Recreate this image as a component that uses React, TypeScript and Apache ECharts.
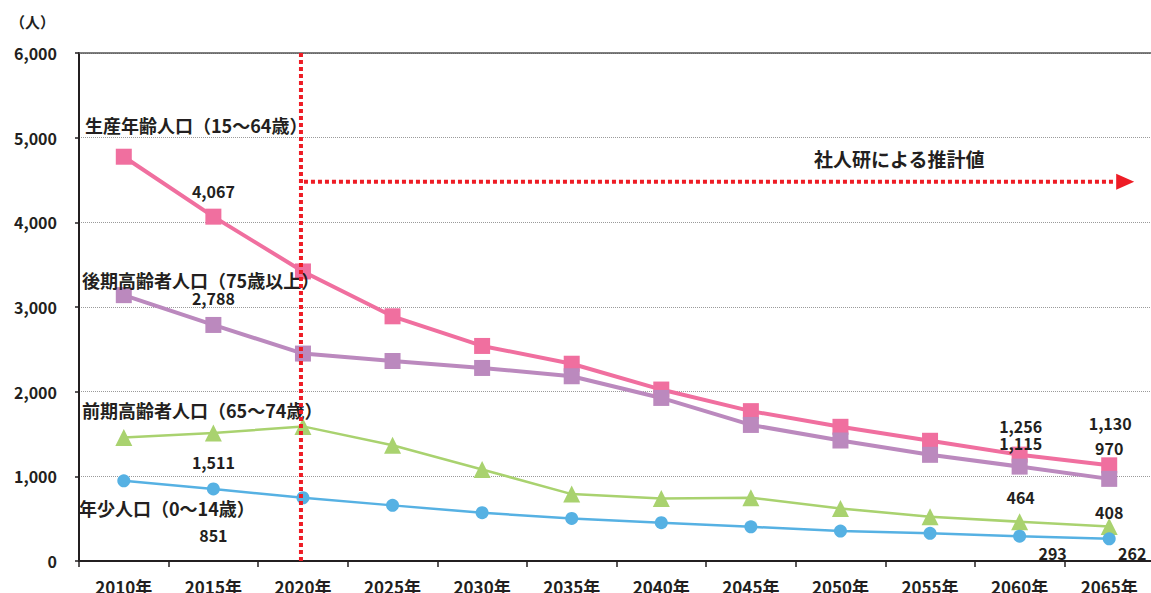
import React, { useEffect, useRef } from "react";
import * as echarts from "echarts";

const years = ["2010年", "2015年", "2020年", "2025年", "2030年", "2035年", "2040年", "2045年", "2050年", "2055年", "2060年", "2065年"];
const working = [4775, 4067, 3420, 2890, 2540, 2330, 2025, 1770, 1585, 1420, 1256, 1130];
const lateElderly = [3140, 2788, 2450, 2362, 2280, 2182, 1926, 1607, 1423, 1254, 1115, 970];
const earlyElderly = [1459, 1511, 1590, 1368, 1081, 790, 739, 747, 621, 522, 464, 408];
const youth = [947, 851, 747, 657, 570, 503, 452, 404, 354, 327, 293, 262];
const yTicks = [0, 1000, 2000, 3000, 4000, 5000, 6000];

const FONT = '"Noto Sans CJK JP", "Noto Sans", sans-serif';
const INK = "#231f20";
const RED = "#ee1c25";

// label offsets (dx, dy from the point centre) for the points that show their value
const labelOffsets: Record<string, Record<number, [number, number]>> = {
  working: { 1: [0, -26], 10: [1, -29], 11: [1, -42] },
  late: { 1: [0, -27], 10: [1, -24], 11: [0, -31] },
  early: { 1: [0, 29], 10: [1, -25], 11: [0, -14] },
  youth: { 1: [0, 46], 10: [33, 17], 11: [23, 14] },
};

function withLabels(values: number[], key: string) {
  const offs = labelOffsets[key];
  return values.map((v, i) =>
    offs[i]
      ? {
          value: v,
          label: {
            show: true,
            position: "inside",
            offset: offs[i],
            formatter: (p: any) => Number(p.value).toLocaleString("en-US"),
            color: INK,
            fontFamily: FONT,
            fontWeight: "bold",
            fontSize: 16,
          },
        }
      : v
  );
}

export default function App() {
  const ref = useRef<HTMLDivElement>(null);

  useEffect(() => {
    if (!ref.current) return;
    const chart = echarts.init(ref.current, null, { renderer: "svg" });

    const lineSeries = (name: string, key: string, values: number[], color: string, symbol: string, size: number, width: number) => ({
      name,
      type: "line",
      data: withLabels(values, key),
      symbol,
      symbolSize: size,
      showAllSymbol: true,
      itemStyle: { color },
      lineStyle: { color, width },
      label: { show: false },
      emphasis: { disabled: true },
    });

    chart.setOption({
      animation: false,
      grid: { left: 79, top: 53, width: 1075, height: 508, containLabel: false, outerBoundsMode: "none" },
      xAxis: [
        {
          type: "category",
          data: years,
          boundaryGap: true,
          axisLine: { show: true, lineStyle: { color: INK, width: 2 } },
          axisTick: { show: true, length: 6, lineStyle: { color: INK, width: 1.5 } },
          axisLabel: { color: INK, fontFamily: FONT, fontWeight: "bold", fontSize: 17, margin: 17 },
          splitLine: { show: false },
        },
        {
          type: "category",
          data: years,
          position: "top",
          axisLine: { show: true, lineStyle: { color: "#555", width: 1.5 } },
          axisTick: { show: false },
          axisLabel: { show: false },
        },
      ],
      yAxis: {
        type: "value",
        min: 0,
        max: 6000,
        interval: 1000,
        axisLine: { show: true, lineStyle: { color: INK, width: 2 } },
        axisTick: { show: true, length: 4, lineStyle: { color: INK, width: 1.5 } },
        axisLabel: {
          color: INK,
          fontFamily: FONT,
          fontWeight: "bold",
          fontSize: 16,
          margin: 22,
          formatter: (v: number) => (yTicks.includes(v) ? v.toLocaleString("en-US") : ""),
        },
        splitLine: { show: true, lineStyle: { color: "#9a9a9a", width: 1, type: [1, 1] } },
      },
      series: [
        lineSeries("生産年齢人口（15～64歳）", "working", working, "#f06f9f", "rect", 16, 4),
        lineSeries("後期高齢者人口（75歳以上）", "late", lateElderly, "#bb89be", "rect", 16, 4),
        lineSeries("前期高齢者人口（65～74歳）", "early", earlyElderly, "#a9d26f", "triangle", 17, 2.5),
        lineSeries("年少人口（0～14歳）", "youth", youth, "#56b1e3", "circle", 13, 2.5),
      ],
    });

    // annotations placed from axis positions
    const [x2020, yTop] = chart.convertToPixel({ xAxisIndex: 0, yAxisIndex: 0 }, [years[2], 6000]) as number[];
    const [x2065, yBottom] = chart.convertToPixel({ xAxisIndex: 0, yAxisIndex: 0 }, [years[11], 0]) as number[];
    const yArrow = chart.convertToPixel({ yAxisIndex: 0 }, 4480) as number;
    const arrowEnd = x2065 + 6;

    const seriesTitle = (text: string, x: number, y: number) => ({
      type: "text",
      x,
      y,
      z: 20,
      style: { text, fill: INK, font: `bold 18px ${FONT}`, verticalAlign: "middle" },
    });

    chart.setOption({
      graphic: [
        {
          type: "text",
          x: 10,
          y: 21,
          style: { text: "（人）", fill: INK, font: `bold 15px ${FONT}`, verticalAlign: "middle" },
        },
        {
          type: "line",
          z: 30,
          shape: { x1: x2020 - 2, y1: yTop, x2: x2020 - 2, y2: yBottom },
          style: { stroke: RED, lineWidth: 4, lineDash: [4, 3] },
        },
        {
          type: "line",
          z: 30,
          shape: { x1: x2020 + 1, y1: yArrow, x2: arrowEnd, y2: yArrow },
          style: { stroke: RED, lineWidth: 4, lineDash: [4, 3] },
        },
        {
          type: "polygon",
          z: 30,
          shape: { points: [[arrowEnd + 1, yArrow - 8], [arrowEnd + 19, yArrow], [arrowEnd + 1, yArrow + 8]] },
          style: { fill: RED },
        },
        {
          type: "text",
          x: 814,
          y: 158,
          z: 20,
          style: { text: "社人研による推計値", fill: INK, font: `bold 19px ${FONT}`, verticalAlign: "middle" },
        },
        seriesTitle("生産年齢人口（15～64歳）", 85, 125),
        seriesTitle("後期高齢者人口（75歳以上）", 82, 280),
        seriesTitle("前期高齢者人口（65～74歳）", 82, 410),
        seriesTitle("年少人口（0～14歳）", 79, 508),
      ],
    });

    return () => chart.dispose();
  }, []);

  return <div ref={ref} style={{ position: "absolute", left: 0, top: 0, width: 1151, height: 593, background: "#fff" }} />;
}
